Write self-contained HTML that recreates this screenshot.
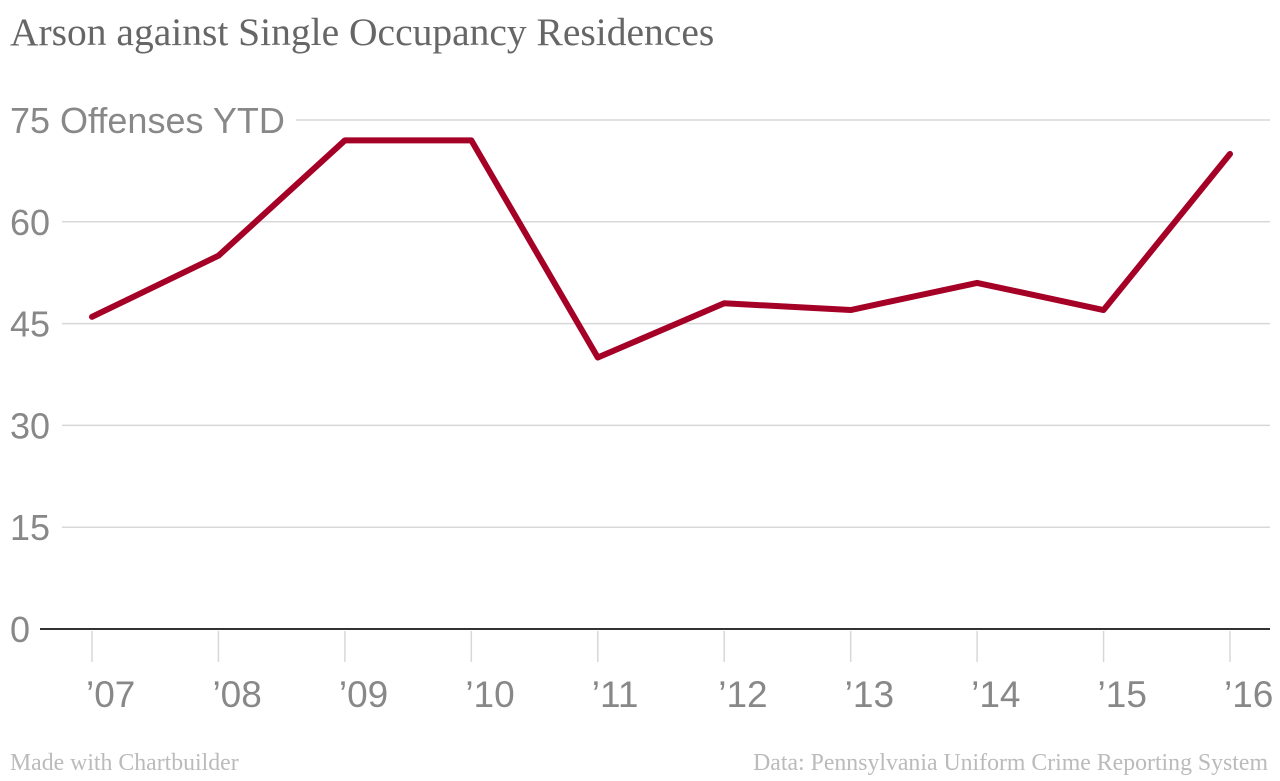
<!DOCTYPE html>
<html><head><meta charset="utf-8"><style>
body{margin:0;background:#fff;width:1280px;height:776px;overflow:hidden}
svg text{font-family:"Liberation Sans",sans-serif}
</style></head><body>
<svg width="1280" height="776">
<text x="10" y="45" style="font-family:'Liberation Serif',serif" font-size="39.5" fill="#666">Arson against Single Occupancy Residences</text>
<g id="grid"></g><g id="xaxis"></g><g id="series"></g>
<text x="10" y="770" style="font-family:'Liberation Serif',serif" font-size="23.8" fill="#bbb">Made with Chartbuilder</text>
<text x="1268" y="770" text-anchor="end" style="font-family:'Liberation Serif',serif" font-size="23.8" fill="#bbb">Data: Pennsylvania Uniform Crime Reporting System</text>
</svg>
<script>
const categories=["’07","’08","’09","’10","’11","’12","’13","’14","’15","’16"];
const values=[46,55,72,72,40,48,47,51,47,70];
const yTicks=[0,15,30,45,60,75];
const yTickLabels=["0","15","30","45","60","75 Offenses YTD"];
const NS="http://www.w3.org/2000/svg";
function y(v){return 629-v*(509/75);}
function x(i){return 92+i*(1230-92)/(categories.length-1);}
function mk(t,a,p){const e=document.createElementNS(NS,t);for(const k in a)e.setAttribute(k,a[k]);p.appendChild(e);return e;}
const grid=document.getElementById('grid'),xa=document.getElementById('xaxis'),se=document.getElementById('series');
yTicks.forEach((v,i)=>{
  const zero=v===0;
  const last=i===yTicks.length-1;
  const l=mk('line',{x1:zero?40:(last?296:62),x2:1270,y1:y(v),y2:y(v),stroke:zero?'#333':'#d8d8d8','stroke-width':zero?2:1.5},grid);
  
  
  const t=mk('text',{x:10,y:y(v)+13,'font-size':36,fill:'#888'},grid);
  t.textContent=yTickLabels[i];
  
  
});
categories.forEach((c,i)=>{
  const l=mk('line',{x1:x(i),x2:x(i),y1:631,y2:662,stroke:'#d8d8d8','stroke-width':1.5},xa);
  
  
  const t=mk('text',{x:x(i)-6,y:707,'font-size':37,fill:'#888'},xa);
  t.textContent=c;
  
  
});
const p=mk('polyline',{points:values.map((v,i)=>x(i)+','+y(v)).join(' '),fill:'none',stroke:'#a50026','stroke-width':6,'stroke-linejoin':'round','stroke-linecap':'round'},se);


</script>
</body></html>
